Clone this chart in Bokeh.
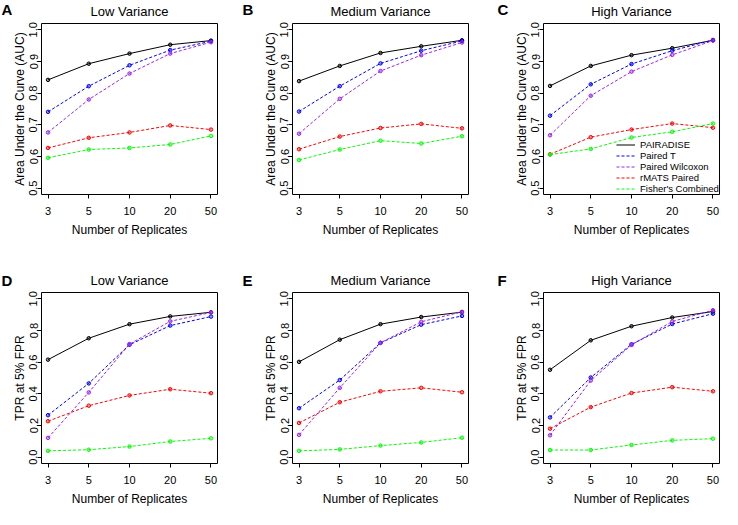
from bokeh.plotting import figure
from bokeh.layouts import column, row
from bokeh.models import Range1d, FixedTicker, Legend, LegendItem, NumeralTickFormatter
from bokeh.core.properties import value
from bokeh.embed import file_html
from bokeh.resources import INLINE

# ---------------- data ----------------
replicates = ["3", "5", "10", "20", "50"]
methods = ["PAIRADISE", "Paired T", "Paired Wilcoxon", "rMATS Paired", "Fisher's Combined"]
colors = ["black", "#0000FF", "#A020F0", "#FF0000", "#00FF00"]
dashes = ["solid", "3 2", "3 2", "3 2", "3 2"]

auc_ticks = [0.5, 0.6, 0.7, 0.8, 0.9, 1.0]
tpr_ticks = [0.0, 0.2, 0.4, 0.6, 0.8, 1.0]

# rows follow `methods`
auc_low = [
    [0.842, 0.893, 0.925, 0.953, 0.966],
    [0.741, 0.822, 0.888, 0.936, 0.964],
    [0.676, 0.780, 0.862, 0.925, 0.961],
    [0.627, 0.659, 0.676, 0.698, 0.685],
    [0.596, 0.622, 0.627, 0.638, 0.665],
]
auc_medium = [
    [0.838, 0.886, 0.927, 0.948, 0.967],
    [0.742, 0.822, 0.894, 0.934, 0.965],
    [0.672, 0.782, 0.870, 0.920, 0.960],
    [0.623, 0.663, 0.690, 0.703, 0.689],
    [0.589, 0.622, 0.650, 0.641, 0.664],
]
auc_high = [
    [0.823, 0.886, 0.920, 0.942, 0.967],
    [0.729, 0.828, 0.892, 0.934, 0.968],
    [0.667, 0.792, 0.868, 0.921, 0.966],
    [0.607, 0.661, 0.685, 0.704, 0.691],
    [0.606, 0.624, 0.660, 0.678, 0.704],
]
tpr_low = [
    [0.616, 0.751, 0.840, 0.889, 0.915],
    [0.265, 0.466, 0.710, 0.831, 0.888],
    [0.122, 0.409, 0.714, 0.858, 0.914],
    [0.227, 0.325, 0.390, 0.429, 0.404],
    [0.040, 0.047, 0.067, 0.099, 0.119],
]
tpr_medium = [
    [0.602, 0.742, 0.840, 0.885, 0.916],
    [0.309, 0.487, 0.722, 0.837, 0.892],
    [0.141, 0.438, 0.722, 0.855, 0.918],
    [0.216, 0.347, 0.416, 0.438, 0.410],
    [0.040, 0.049, 0.073, 0.093, 0.123],
]
tpr_high = [
    [0.552, 0.738, 0.827, 0.882, 0.920],
    [0.251, 0.503, 0.713, 0.841, 0.906],
    [0.138, 0.484, 0.709, 0.857, 0.928],
    [0.180, 0.316, 0.405, 0.442, 0.416],
    [0.045, 0.045, 0.077, 0.106, 0.117],
]

titles = ["Low Variance", "Medium Variance", "High Variance"]
letters = [["A", "B", "C"], ["D", "E", "F"]]
ylabels = ["Area Under the Curve (AUC)", "TPR at 5% FPR"]
xlabel = "Number of Replicates"

# ---------------- layout ----------------
FONT = "Liberation Sans"
FW, FH = 176, 171
col_left = [41, 74, 74]
col_right = [1, 1, 3]
TOP = 4
BOTTOM = 46
header_h = [19, 48]
title_y = [8, 8]      # centre of panel titles, px above header bottom
letter_y = [10, 8.5]
letter_dx = [-47, -50, -46]

xpos = list(range(1, len(replicates) + 1))
fig_w = [col_left[c] + FW + col_right[c] for c in range(3)]
TOTAL_W = sum(fig_w)


def make_header(r):
    h = header_h[r]
    p = figure(width=TOTAL_W, height=h, x_range=Range1d(0, TOTAL_W), y_range=Range1d(0, h),
               x_axis_location=None, y_axis_location=None, min_border=0,
               output_backend="svg", toolbar_location=None)
    p.outline_line_color = None
    p.grid.visible = False
    offs = [sum(fig_w[:c]) for c in range(3)]
    frame_l = [offs[c] + col_left[c] for c in range(3)]
    p.text(x=[fl + FW / 2 for fl in frame_l], y=[title_y[r]] * 3, text=titles,
           text_font=value(FONT), text_font_size=value("13px"), text_color="black",
           text_align="center", text_baseline="middle")
    p.text(x=[max(1, frame_l[c] + letter_dx[c]) for c in range(3)], y=[letter_y[r]] * 3,
           text=letters[r], text_font=value(FONT), text_font_size=value("15px"),
           text_font_style="bold", text_color="black",
           text_align="left", text_baseline="middle")
    return p


def make_panel(r, c, values, ticks, legend=False):
    pad_y = (ticks[-1] - ticks[0]) * 0.04
    p = figure(
        width=fig_w[c],
        height=TOP + FH + BOTTOM,
        min_border_left=col_left[c], min_border_right=col_right[c],
        min_border_top=TOP, min_border_bottom=BOTTOM,
        x_range=Range1d(xpos[0] - 0.16, xpos[-1] + 0.16),
        y_range=Range1d(ticks[0] - pad_y, ticks[-1] + pad_y),
        output_backend="svg", toolbar_location=None,
    )
    p.outline_line_color = "black"
    p.outline_line_width = 1
    p.outline_line_alpha = 1
    p.xgrid.visible = False
    p.ygrid.visible = False
    p.background_fill_color = "white"
    p.border_fill_color = "white"

    p.xaxis.ticker = FixedTicker(ticks=xpos)
    p.xaxis.major_label_overrides = {xp: lab for xp, lab in zip(xpos, replicates)}
    p.yaxis.ticker = FixedTicker(ticks=ticks)
    p.yaxis.formatter = NumeralTickFormatter(format="0.0")
    p.yaxis.major_label_orientation = "vertical"
    p.xaxis.axis_label = xlabel
    p.yaxis.axis_label = ylabels[r]

    for ax in (p.xaxis[0], p.yaxis[0]):
        ax.axis_line_color = None
        ax.major_tick_line_color = "black"
        ax.major_tick_out = 4
        ax.major_tick_in = 0
        ax.minor_tick_line_color = None
        ax.major_label_text_font = FONT
        ax.major_label_text_font_size = "11px"
        ax.major_label_text_color = "black"
        ax.axis_label_text_font = FONT
        ax.axis_label_text_font_size = "12px"
        ax.axis_label_text_font_style = "normal"
        ax.axis_label_text_color = "black"
    p.xaxis.major_label_standoff = 8
    p.xaxis.axis_label_standoff = 5
    p.yaxis.major_label_standoff = 0
    p.yaxis.axis_label_standoff = 0

    items = []
    for name, vals, col, dash in zip(methods, values, colors, dashes):
        lr = p.line(xpos, vals, line_color=col, line_width=1, line_dash=dash)
        p.scatter(xpos, vals, marker="circle", size=3.5, line_color=col,
                  fill_color=col, fill_alpha=0.4, line_width=1)
        items.append(LegendItem(label=name, renderers=[lr]))

    if legend:
        lg = Legend(items=items, location=(73, 0),
                    border_line_color=None, background_fill_alpha=0,
                    label_text_font=FONT, label_text_font_size="9.5px",
                    label_text_color="black",
                    glyph_height=11, glyph_width=19, label_height=11,
                    spacing=0, padding=2, margin=0, label_standoff=5)
        p.add_layout(lg)
    return p


h1 = make_header(0)
p1 = make_panel(0, 0, auc_low, auc_ticks)
p2 = make_panel(0, 1, auc_medium, auc_ticks)
p3 = make_panel(0, 2, auc_high, auc_ticks, legend=True)
h2 = make_header(1)
p4 = make_panel(1, 0, tpr_low, tpr_ticks)
p5 = make_panel(1, 1, tpr_medium, tpr_ticks)
p6 = make_panel(1, 2, tpr_high, tpr_ticks)

layout = column(h1, row(p1, p2, p3), h2, row(p4, p5, p6))

open("out.html", "w").write(file_html(layout, INLINE))
